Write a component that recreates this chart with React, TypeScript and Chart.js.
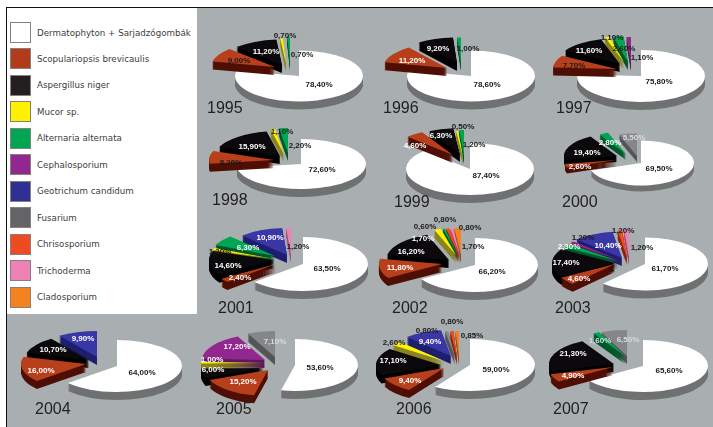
import React, { useEffect, useRef } from "react";
import { Chart, registerables } from "chart.js";

Chart.register(...registerables);

// Species, in legend order
const speciesNames = [
  "Dermatophyton + Sarjadzógombák",
  "Scopulariopsis brevicaulis",
  "Aspergillus niger",
  "Mucor sp.",
  "Alternaria alternata",
  "Cephalosporium",
  "Geotrichum candidum",
  "Fusarium",
  "Chrisosporium",
  "Trichoderma",
  "Cladosporium",
];
const speciesColors = ["#ffffff", "#b83f1b", "#0b090b", "#fff200", "#00a651", "#92278f", "#3936a6", "#858688", "#ef4b23", "#ee82b4", "#f58220"];
const legendSwatches = ["#ffffff", "#b23c19", "#231f20", "#fff200", "#00a651", "#92278f", "#2e3192", "#636466", "#ef4b23", "#ee82b4", "#f58220"];
const wallColors = ["#6f7172", "#4f0f05", "#000000", "#8a8420", "#00582c", "#5a1a5a", "#1f1f70", "#55565a", "#8a2510", "#a0507a", "#9a5010"];

const [DER, SCO, ASP, MUC, ALT, CEP, GEO, FUS, CHR, TRI, CLA] = [0, 1, 2, 3, 4, 5, 6, 7, 8, 9, 10];

// Percentages per year, clockwise from twelve o'clock
const species1995 = [DER, SCO, ASP, MUC, ALT];
const values1995 = [78.4, 9.0, 11.2, 0.7, 0.7];
const species1996 = [DER, SCO, ASP, ALT];
const values1996 = [78.6, 11.2, 9.2, 1.0];
const species1997 = [DER, SCO, ASP, MUC, ALT, CEP];
const values1997 = [75.8, 7.7, 11.6, 1.1, 2.6, 1.1];
const species1998 = [DER, SCO, ASP, MUC, ALT];
const values1998 = [72.6, 8.2, 15.9, 1.1, 2.2];
const species1999 = [DER, SCO, ASP, MUC, ALT];
const values1999 = [87.4, 4.6, 6.3, 0.5, 1.2];
const species2000 = [DER, SCO, ASP, ALT, FUS];
const values2000 = [69.5, 2.6, 19.4, 2.8, 5.5];
const species2001 = [DER, SCO, ASP, MUC, ALT, GEO, TRI];
const values2001 = [63.5, 2.4, 14.6, 1.2, 6.3, 10.9, 1.2];
const species2002 = [DER, SCO, ASP, MUC, ALT, CHR, TRI, CLA];
const values2002 = [66.2, 11.8, 16.2, 1.7, 0.6, 0.8, 0.8, 1.7];
const species2003 = [DER, SCO, ASP, ALT, CEP, GEO, CHR, TRI];
const values2003 = [61.7, 4.6, 17.4, 2.3, 1.2, 10.4, 1.2, 1.2];
const species2004 = [DER, SCO, ASP, GEO];
const values2004 = [64.0, 16.0, 10.7, 9.9];
const species2005 = [DER, SCO, ASP, MUC, CEP, FUS];
const values2005 = [53.6, 15.2, 6.0, 1.0, 17.2, 7.1];
const species2006 = [DER, SCO, ASP, MUC, GEO, FUS, CHR, CLA];
const values2006 = [59.0, 9.4, 17.1, 2.6, 9.4, 0.8, 0.8, 0.85];
const species2007 = [DER, SCO, ASP, ALT, FUS];
const values2007 = [65.6, 4.9, 21.3, 1.6, 6.5];

type Panel = {
  year: string;
  species: number[];
  values: number[];
  cx: number; cy: number; r: number; ry: number; depth: number;
  yearAt: [number, number];
  pull: [number, number][];
  labels: [number, number, string][];
};

// Where each small pie sits on the page, how far its slices are pulled from
// the centre, and where the value captions go (k = dark, w = white, l = light).
const panels: Panel[] = [
  { year: "1995", species: species1995, values: values1995, cx: 299, cy: 76, r: 64, ry: 25.5, depth: 8, yearAt: [207, 113],
    pull: [[0, 0], [-24, -9], [-17, -11], [-13, -12], [-9, -14]],
    labels: [[319, 85, "k"], [239, 61, "k"], [266, 52, "w"], [285, 36, "k"], [302, 55, "k"]] },
  { year: "1996", species: species1996, values: values1996, cx: 471, cy: 76, r: 64, ry: 25.5, depth: 8, yearAt: [383, 113],
    pull: [[0, 0], [-24, -8], [-14, -13], [-10, -13]],
    labels: [[487, 85, "k"], [412, 61, "w"], [438, 49, "w"], [468, 49, "k"]] },
  { year: "1997", species: species1997, values: values1997, cx: 641, cy: 76, r: 64, ry: 26, depth: 8, yearAt: [556, 113],
    pull: [[0, 0], [-24, -7], [-21, -12], [-17, -14], [-13, -14], [-10, -13]],
    labels: [[659, 82, "k"], [574, 66, "k"], [589, 51, "w"], [612, 38, "k"], [624, 49, "k"], [642, 58, "k"]] },
  { year: "1998", species: species1998, values: values1998, cx: 301, cy: 164, r: 65, ry: 25, depth: 8, yearAt: [212, 205],
    pull: [[0, 0], [-27, -4], [-21, -8], [-17, -10], [-13, -11]],
    labels: [[322, 170, "k"], [231, 163, "k"], [252, 147, "w"], [282, 132, "k"], [300, 146, "k"]] },
  { year: "1999", species: species1999, values: values1999, cx: 470, cy: 169, r: 64, ry: 26, depth: 8, yearAt: [394, 207],
    pull: [[0, 0], [-17, -14], [-10, -15], [-7, -12], [-6, -13]],
    labels: [[486, 176, "k"], [415, 146, "w"], [441, 136, "w"], [463, 127, "k"], [474, 145, "k"]] },
  { year: "2000", species: species2000, values: values2000, cx: 641, cy: 163, r: 53, ry: 22.5, depth: 6, yearAt: [562, 207],
    pull: [[0, 0], [-24, -3], [-24, -7], [-15, -9], [-4, -7]],
    labels: [[659, 169, "k"], [580, 167, "w"], [587, 153, "w"], [610, 143, "w"], [634, 138, "l"]] },
  { year: "2001", species: species2001, values: values2001, cx: 303, cy: 264, r: 65, ry: 27, depth: 8, yearAt: [218, 313],
    pull: [[0, 0], [-27, 0], [-29, -4], [-29, -5], [-28, -8], [-16, -9], [-12, -9]],
    labels: [[327, 269, "k"], [240, 278, "w"], [228, 266, "w"], [220, 252, "k"], [248, 248, "w"], [270, 238, "w"], [298, 247, "k"]] },
  { year: "2002", species: species2002, values: values2002, cx: 475, cy: 265, r: 63, ry: 27, depth: 8, yearAt: [392, 313],
    pull: [[0, 0], [-33, -1], [-26, -5], [-19, -10], [-17, -10], [-16, -10], [-15, -10], [-14, -10]],
    labels: [[492, 272, "k"], [400, 268, "w"], [411, 252, "w"], [423, 239, "w"], [425, 227, "k"], [445, 220, "k"], [470, 228, "k"], [473, 247, "k"]] },
  { year: "2003", species: species2003, values: values2003, cx: 645, cy: 264, r: 63, ry: 26.5, depth: 8, yearAt: [555, 313],
    pull: [[0, 0], [-30, 0], [-30, -1], [-27, -3], [-26, -4], [-23, -6], [-18, -7], [-16, -7]],
    labels: [[665, 269, "k"], [579, 279, "w"], [566, 263, "w"], [569, 247, "w"], [583, 238, "k"], [608, 246, "w"], [623, 231, "k"], [642, 248, "k"]] },
  { year: "2004", species: species2004, values: values2004, cx: 117, cy: 366, r: 65, ry: 26, depth: 8, yearAt: [35, 414],
    pull: [[0, 0], [-31, -2], [-28, -6], [-20, -9]],
    labels: [[142, 373, "k"], [41, 371, "w"], [53, 350, "w"], [83, 339, "w"]] },
  { year: "2005", species: species2005, values: values2005, cx: 295, cy: 365, r: 63, ry: 26, depth: 8, yearAt: [216, 414],
    pull: [[0, 0], [-27, 5], [-31, 3], [-31, -2], [-30, -5], [-20, -8]],
    labels: [[320, 368, "k"], [243, 382, "w"], [213, 370, "w"], [212, 360, "w"], [237, 347, "w"], [275, 342, "l"]] },
  { year: "2006", species: species2006, values: values2006, cx: 470, cy: 365, r: 65, ry: 26, depth: 8, yearAt: [396, 414],
    pull: [[0, 0], [-26, 3], [-29, 0], [-26, -4], [-19, -9], [-15, -8], [-13, -8], [-11, -8]],
    labels: [[496, 370, "k"], [410, 381, "w"], [393, 361, "w"], [394, 343, "k"], [430, 342, "w"], [427, 331, "k"], [452, 322, "k"], [472, 336, "k"]] },
  { year: "2007", species: species2007, values: values2007, cx: 643, cy: 366, r: 65, ry: 26, depth: 8, yearAt: [553, 414],
    pull: [[0, 0], [-30, 1], [-29, -2], [-18, -10], [-16, -10]],
    labels: [[669, 371, "k"], [573, 376, "w"], [573, 354, "w"], [600, 341, "l"], [628, 340, "l"]] },
];

const BOX_W = 220;
const BOX_H = 130;
const captionInk: Record<string, string> = { k: "#1a1a1a", w: "#ffffff", l: "#d9dcdd" };

// Tilted pie: squashes the flat arcs and extrudes them downwards
function tiltedPie(panel: Panel) {
  const originX = panel.cx - BOX_W / 2;
  const originY = panel.cy - BOX_H / 2;
  const squash = panel.ry / panel.r;
  return {
    id: "tiltedPie",
    afterDatasetsUpdate(chart: any) {
      chart.getDatasetMeta(0).data.forEach((arc: any, i: number) => {
        arc.x += panel.pull[i][0];
        arc.y += panel.pull[i][1] / squash;
      });
    },
    beforeDatasetDraw(chart: any) {
      const ctx: CanvasRenderingContext2D = chart.ctx;
      const pivotX = BOX_W / 2;
      const pivotY = BOX_H / 2;
      const arcs = chart.getDatasetMeta(0).data.map((arc: any, i: number) => ({ arc, i }));
      const depthKey = (a: any) =>
        a.i === 0 ? -1e6 : a.arc.y + 0.6 * a.arc.outerRadius * Math.sin((a.arc.startAngle + a.arc.endAngle) / 2);
      arcs.sort((p: any, q: any) => depthKey(p) - depthKey(q));
      for (const { arc, i } of arcs) {
        ctx.fillStyle = wallColors[panel.species[i]];
        for (let k = panel.depth; k >= 1; k--) {
          ctx.save();
          ctx.translate(pivotX, pivotY + k);
          ctx.scale(1, squash);
          ctx.translate(-pivotX, -pivotY);
          ctx.beginPath();
          ctx.moveTo(arc.x, arc.y);
          ctx.arc(arc.x, arc.y, arc.outerRadius, arc.startAngle, arc.endAngle);
          ctx.closePath();
          ctx.fill();
          ctx.restore();
        }
        ctx.save();
        ctx.translate(pivotX, pivotY);
        ctx.scale(1, squash);
        ctx.translate(-pivotX, -pivotY);
        arc.draw(ctx);
        ctx.restore();
      }
      return false;
    },
    afterDraw(chart: any) {
      const ctx: CanvasRenderingContext2D = chart.ctx;
      ctx.save();
      ctx.textAlign = "center";
      ctx.textBaseline = "middle";
      ctx.font = 'bold 8px "Liberation Sans"';
      panel.labels.forEach(([x, y, ink], i) => {
        ctx.fillStyle = captionInk[ink];
        ctx.fillText(panel.values[i].toFixed(2).replace(".", ",") + "%", x - originX, y - originY);
      });
      ctx.textAlign = "left";
      ctx.textBaseline = "alphabetic";
      ctx.font = '16px "Liberation Sans"';
      ctx.fillStyle = "#222222";
      ctx.fillText(panel.year, panel.yearAt[0] - originX, panel.yearAt[1] - originY);
      ctx.restore();
    },
  };
}

function PiePanel({ panel }: { panel: Panel }) {
  const ref = useRef<HTMLCanvasElement>(null);
  useEffect(() => {
    const chart = new Chart(ref.current!, {
      type: "pie",
      data: {
        labels: panel.species.map((s) => speciesNames[s]),
        datasets: [
          {
            data: panel.values,
            backgroundColor: panel.species.map((s) => speciesColors[s]),
            borderWidth: 0,
          },
        ],
      },
      options: {
        responsive: false,
        animation: false,
        radius: panel.r,
        layout: { padding: 0 },
        plugins: { legend: { display: false }, tooltip: { enabled: false }, title: { display: false } },
      } as any,
      plugins: [tiltedPie(panel)],
    });
    return () => chart.destroy();
  }, [panel]);
  return (
    <canvas
      ref={ref}
      width={BOX_W}
      height={BOX_H}
      style={{ position: "absolute", left: panel.cx - BOX_W / 2, top: panel.cy - BOX_H / 2, width: BOX_W, height: BOX_H }}
    />
  );
}

export default function App() {
  return (
    <div style={{ position: "absolute", left: 0, top: 0, width: 713, height: 427, overflow: "hidden", background: "#ffffff" }}>
      <div style={{ position: "absolute", left: 6, top: 7, right: 0, bottom: 0, background: "#a9aeb0", borderTop: "1px solid #111", borderLeft: "1px solid #111" }} />
      <div style={{ position: "absolute", left: 7, top: 8, width: 190, height: 306, background: "#ffffff" }} />
      {speciesNames.map((name, i) => (
        <React.Fragment key={name}>
          <div
            style={{
              position: "absolute", left: 10, top: 22 + i * 26.45, width: 19, height: 19,
              background: legendSwatches[i], border: "1.5px solid #85807c",
            }}
          />
          <div
            style={{
              position: "absolute", left: 37, top: 26.5 + i * 26.45, height: 12, lineHeight: "12px",
              font: '8.7px/12px "DejaVu Sans"', color: "#3c3c3c", whiteSpace: "nowrap",
            }}
          >
            {name}
          </div>
        </React.Fragment>
      ))}
      {panels.map((p) => (
        <PiePanel key={p.year} panel={p} />
      ))}
    </div>
  );
}
